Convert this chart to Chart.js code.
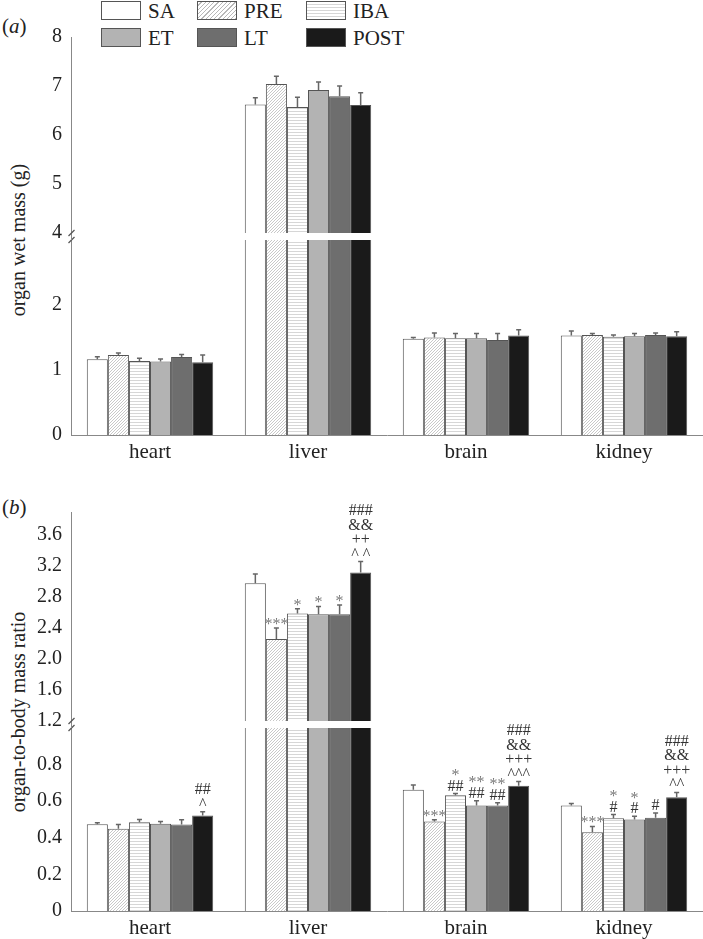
<!DOCTYPE html>
<html><head><meta charset="utf-8">
<script src="https://cdn.jsdelivr.net/npm/chart.js@4.4.1/dist/chart.umd.min.js"></script>
<style>
html,body{margin:0;padding:0;background:#fff;}
body{width:703px;height:939px;position:relative;overflow:hidden;font-family:"Liberation Serif","Times New Roman",serif;color:#222;}
canvas{position:absolute;left:0;}
.lab{position:absolute;font-size:21px;line-height:21px;white-space:nowrap;}
.sw{position:absolute;width:40px;height:19px;box-sizing:border-box;border:1px solid #555;}
.ytitle{position:absolute;font-size:20px;line-height:20px;white-space:nowrap;transform:translate(-50%,-50%) rotate(-90deg);}
</style></head><body>
<div class="lab" style="left:2px;top:16px;">(<i>a</i>)</div>
<div class="lab" style="left:2px;top:497px;">(<i>b</i>)</div>
<div class="ytitle" style="left:18px;top:240px;">organ wet mass (g)</div>
<div class="ytitle" style="left:18px;top:712px;">organ-to-body mass ratio</div>
<div id="legend"></div>
<canvas id="aBot" width="703" height="236" style="top:236px"></canvas>
<canvas id="aTop" width="703" height="251" style="top:0px"></canvas>
<canvas id="bBot" width="703" height="215" style="top:724px"></canvas>
<canvas id="bTop" width="703" height="267" style="top:472px"></canvas>
<script>
// ---------- data ----------
const categories = ['heart', 'liver', 'brain', 'kidney'];
const seriesNames = ['SA', 'PRE', 'IBA', 'ET', 'LT', 'POST'];

// (a) organ wet mass (g)
const wetSA   = [1.165, 6.62, 1.48, 1.53];
const wetPRE  = [1.23, 7.04, 1.50, 1.54];
const wetIBA  = [1.14, 6.57, 1.49, 1.51];
const wetET   = [1.13, 6.92, 1.49, 1.52];
const wetLT   = [1.20, 6.79, 1.46, 1.54];
const wetPOST = [1.12, 6.61, 1.53, 1.52];
const wetSAErr   = [0.04, 0.14, 0.02, 0.07];
const wetPREErr  = [0.03, 0.16, 0.07, 0.02];
const wetIBAErr  = [0.04, 0.20, 0.07, 0.03];
const wetETErr   = [0.04, 0.16, 0.07, 0.04];
const wetLTErr   = [0.04, 0.21, 0.10, 0.03];
const wetPOSTErr = [0.11, 0.25, 0.09, 0.07];

// (b) organ-to-body mass ratio
const ratioSA   = [0.474, 2.98, 0.663, 0.576];
const ratioPRE  = [0.449, 2.26, 0.489, 0.431];
const ratioIBA  = [0.485, 2.59, 0.632, 0.507];
const ratioET   = [0.477, 2.58, 0.576, 0.500];
const ratioLT   = [0.473, 2.58, 0.576, 0.509];
const ratioPOST = [0.522, 3.12, 0.685, 0.621];
const ratioSAErr   = [0.008, 0.12, 0.025, 0.011];
const ratioPREErr  = [0.024, 0.14, 0.010, 0.031];
const ratioIBAErr  = [0.015, 0.06, 0.010, 0.020];
const ratioETErr   = [0.012, 0.10, 0.027, 0.018];
const ratioLTErr   = [0.025, 0.12, 0.015, 0.027];
const ratioPOSTErr = [0.020, 0.14, 0.022, 0.027];

// significance labels (b), per series, per category, lines top to bottom
const sigSA   = [[], [], [], []];
const sigPRE  = [[], ['***'], ['***'], ['***']];
const sigIBA  = [[], ['*'], ['*', '##'], ['*', '#']];
const sigET   = [[], ['*'], ['**', '##'], ['*', '#']];
const sigLT   = [[], ['*'], ['**', '##'], ['#']];
const sigPOST = [['##', '^'], ['###', '&&', '++', '^ ^'], ['###', '&&', '+++', '^^^'], ['###', '&&', '+++', '^^']];

// axis ticks
const ticksAUpper = [4, 5, 6, 7, 8];
const ticksALower = [0, 1, 2];
const ticksBUpper = [1.2, 1.6, 2.0, 2.4, 2.8, 3.2, 3.6];
const ticksBLower = [0, 0.2, 0.4, 0.6, 0.8];

// ---------- styles ----------
function diagPattern(){
  const c=document.createElement('canvas'); c.width=3; c.height=3;
  const g=c.getContext('2d'); g.fillStyle='#fff'; g.fillRect(0,0,3,3);
  g.strokeStyle='#b0b0b0'; g.lineWidth=0.7; g.beginPath();
  g.moveTo(0,3); g.lineTo(3,0); g.moveTo(-1,1); g.lineTo(1,-1); g.moveTo(2,4); g.lineTo(4,2); g.stroke();
  return g.createPattern(c,'repeat');
}
function horizPattern(){
  const c=document.createElement('canvas'); c.width=3; c.height=3;
  const g=c.getContext('2d'); g.fillStyle='#fff'; g.fillRect(0,0,3,3);
  g.fillStyle='#d6d6d6'; g.fillRect(0,0,3,1);
  return g.createPattern(c,'repeat');
}
const fills = ['#ffffff', diagPattern(), horizPattern(), '#b3b3b3', '#6e6e6e', '#1a1a1a'];
const cssFills = ['#fff',
  'repeating-linear-gradient(135deg,#fff 0 2px,#b8b8b8 2px 3px)',
  'repeating-linear-gradient(180deg,#fff 0 2px,#d6d6d6 2px 3px)',
  '#b3b3b3','#6e6e6e','#1a1a1a'];

// legend (HTML)
const legPos = [[101,1],[197,1],[306,1],[101,28],[197,28],[306,28]];
const leg = document.getElementById('legend');
seriesNames.forEach((n,i)=>{
  const [x,y]=legPos[i];
  const s=document.createElement('div'); s.className='sw';
  s.style.left=x+'px'; s.style.top=y+'px'; s.style.background=cssFills[i];
  leg.appendChild(s);
  const t=document.createElement('div'); t.className='lab';
  t.style.left=(x+47)+'px'; t.style.top=(y)+'px'; t.textContent=n;
  leg.appendChild(t);
});

const FONT = {family:'"Liberation Serif","Times New Roman",serif', size:20};
const XFONT = {family:'"Liberation Serif","Times New Roman",serif', size:21};

function decorPlugin(errs, sigs, part, gap){
  return {
    id:'decor',
    afterDatasetsDraw(chart){
      const ctx=chart.ctx, y=chart.scales.y;
      ctx.save();
      chart.data.datasets.forEach((ds,i)=>{
        const meta=chart.getDatasetMeta(i);
        ds.data.forEach((v,j)=>{
          if(v==null || v<y.min || v>y.max) return;
          const el=meta.data[j];
          const py=y.getPixelForValue(v), pt=y.getPixelForValue(v+errs[i][j]);
          ctx.strokeStyle='#666'; ctx.lineWidth=1.5;
          ctx.beginPath(); ctx.moveTo(el.x,py); ctx.lineTo(el.x,pt);
          ctx.moveTo(el.x-2.5,pt); ctx.lineTo(el.x+2.5,pt); ctx.stroke();
          if(sigs){
            const lines=sigs[i][j];
            ctx.font='16px "Liberation Serif","Times New Roman",serif';
            ctx.textAlign='center'; ctx.textBaseline='alphabetic';
            for(let k=lines.length-1, n=0;k>=0;k--,n++){
              const s=lines[k];
              const star=/^\*+$/.test(s);
              ctx.fillStyle = star ? '#7a7a7a' : '#333';
              const base = pt-3-n*14.5 + (star?4:0);
              ctx.fillText(s, el.x, base);
            }
          }
        });
      });
      ctx.restore();
    },
    afterDraw(chart){
      const ctx=chart.ctx, a=chart.chartArea;
      const x=Math.round(a.left-0.5)+0.5;
      ctx.save(); ctx.strokeStyle='#888'; ctx.lineWidth=1;
      ctx.beginPath();
      const yb = part==='top' ? a.bottom : a.top;
      if(part==='top'){ ctx.moveTo(x,a.bottom); ctx.lineTo(x,a.bottom+gap); }
      else { ctx.moveTo(x,0); ctx.lineTo(x,a.top); }
      ctx.stroke();
      ctx.strokeStyle='#555'; ctx.lineWidth=1.2;
      ctx.beginPath(); ctx.moveTo(x-3,yb+3); ctx.lineTo(x+3,yb-3); ctx.stroke();
      ctx.restore();
    }
  };
}

function makeChart(id, vals, errs, sigs, opts){
  const data = vals.map((arr,i)=>({
    label: seriesNames[i],
    data: opts.part==='top' ? arr.map(v => v>=opts.min ? v : null) : arr.slice(),
    backgroundColor: fills[i],
    borderColor: '#555',
    borderWidth: 1,
    categoryPercentage: 0.8,
    barPercentage: 1.0,
    clip: 0
  }));
  return new Chart(document.getElementById(id), {
    type:'bar',
    data:{labels:categories, datasets:data},
    options:{
      responsive:false, animation:false, devicePixelRatio:1,
      layout:{autoPadding:false, padding:{top:opts.padTop, bottom:opts.padBottom, left:0, right:0}},
      plugins:{legend:{display:false}, tooltip:{enabled:false}},
      scales:{
        x:{
          display: opts.part!=='top',
          grid:{display:false, drawTicks:false},
          border:{display:true, color:'#888', width:1},
          ticks:{font:XFONT, color:'#222', padding:5, maxRotation:0},
          afterFit(s){ s.height = opts.xHeight || 0; s.paddingLeft=0; s.paddingRight=0; s.paddingTop=0; s.paddingBottom=0; }
        },
        y:{
          min:opts.min, max:opts.max,
          grid:{display:false, drawTicks:false},
          border:{display:true, color:'#888', width:1},
          ticks:{font:FONT, color:'#222', padding:9, callback:opts.fmt},
          afterBuildTicks(s){ s.ticks = opts.ticks.map(v=>({value:v})); },
          afterFit(s){ s.width = 71; s.paddingTop=0; s.paddingBottom=0; s.paddingLeft=0; s.paddingRight=0; }
        }
      }
    },
    plugins:[decorPlugin(errs, sigs, opts.part, opts.gap || 0)]
  });
}

const wetVals = [wetSA, wetPRE, wetIBA, wetET, wetLT, wetPOST];
const wetErrs = [wetSAErr, wetPREErr, wetIBAErr, wetETErr, wetLTErr, wetPOSTErr];
const ratioVals = [ratioSA, ratioPRE, ratioIBA, ratioET, ratioLT, ratioPOST];
const ratioErrs = [ratioSAErr, ratioPREErr, ratioIBAErr, ratioETErr, ratioLTErr, ratioPOSTErr];
const sigs = [sigSA, sigPRE, sigIBA, sigET, sigLT, sigPOST];

const fmtA = v => String(v);
const fmtB = v => v===0 ? '0' : v.toFixed(1);

makeChart('aBot', wetVals, wetErrs, null, {part:'bot', min:0, max:3, ticks:ticksALower, fmt:fmtA, padTop:4, padBottom:0, xHeight:37});
makeChart('aTop', wetVals, wetErrs, null, {part:'top', min:4, max:8, ticks:ticksAUpper, fmt:fmtA, padTop:37, padBottom:18, gap:7});
makeChart('bBot', ratioVals, ratioErrs, sigs, {part:'bot', min:0, max:1.0, ticks:ticksBLower, fmt:fmtB, padTop:4, padBottom:0, xHeight:28});
makeChart('bTop', ratioVals, ratioErrs, sigs, {part:'top', min:1.2, max:3.9, ticks:ticksBUpper, fmt:fmtB, padTop:40, padBottom:18, gap:7});
</script>
</body></html>
